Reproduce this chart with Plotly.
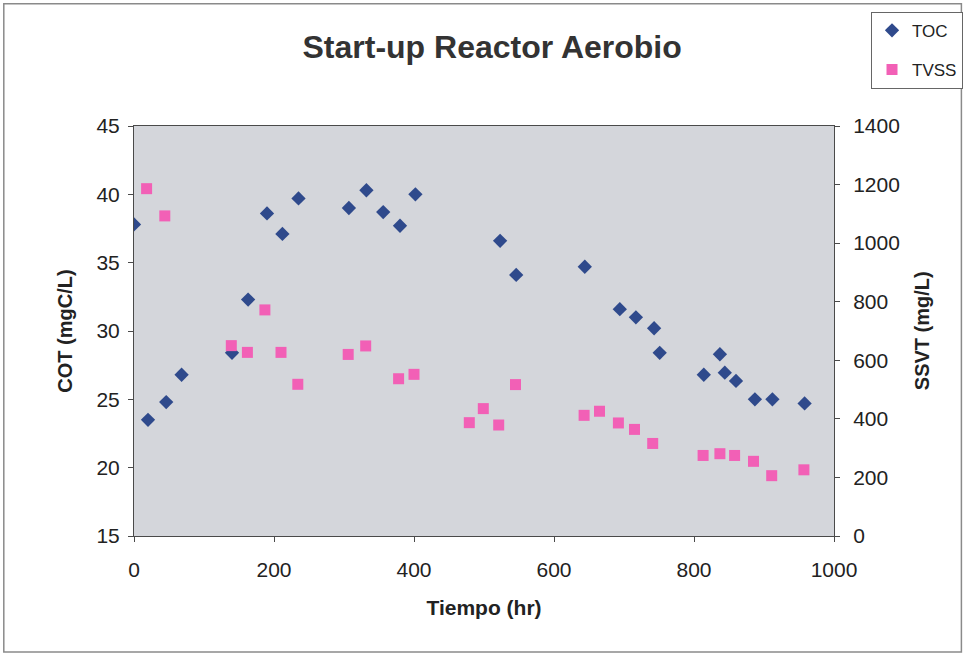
import plotly.graph_objects as go

# Total organic carbon (left axis, mgC/L)
toc_time = [0, 20, 46, 68, 140, 163, 190, 212, 235, 307, 332, 356, 380, 402,
            523, 546, 644, 694, 717, 743, 751, 814, 837, 844, 860, 887, 912, 958]
toc_value = [37.8, 23.5, 24.8, 26.8, 28.4, 32.3, 38.6, 37.1, 39.7, 39.0, 40.3, 38.7, 37.7, 40.0,
             36.6, 34.1, 34.7, 31.6, 31.0, 30.2, 28.4, 26.8, 28.3, 26.95, 26.35, 25.0, 25.0, 24.7]

# Volatile suspended solids (right axis, mg/L)
tvss_time = [18, 44, 139, 162, 187, 210, 234, 306, 331, 378, 400,
             479, 499, 521, 545, 643, 665, 692, 715, 741, 813, 837, 858, 885, 911, 957]
tvss_value = [1186, 1093, 650, 627, 772, 627, 518, 620, 649, 537, 552,
              387, 435, 379, 517, 412, 426, 386, 364, 316, 275, 281, 275, 255, 206, 226]

x_ticks = [0, 200, 400, 600, 800, 1000]
left_ticks = [15, 20, 25, 30, 35, 40, 45]
right_ticks = [0, 200, 400, 600, 800, 1000, 1200, 1400]

FONT = "Liberation Sans, Arial, sans-serif"
AXIS_COLOR = "#4a4a4a"
TEXT_COLOR = "#222222"

fig = go.Figure()
fig.add_trace(go.Scatter(
    x=toc_time, y=toc_value, name="TOC", mode="markers",
    marker=dict(symbol="diamond", size=11, color="#2f4a8c"),
    legendgroup="a", yaxis="y",
))
fig.add_trace(go.Scatter(
    x=tvss_time, y=tvss_value, name="TVSS", mode="markers",
    marker=dict(symbol="square", size=11, color="#f260b6"),
    legendgroup="b", yaxis="y2",
))

axis_common = dict(
    showgrid=False, zeroline=False, showline=True, linecolor=AXIS_COLOR, linewidth=1,
    ticks="outside", ticklen=5, tickcolor=AXIS_COLOR, automargin=False,
    tickfont=dict(family=FONT, size=21, color=TEXT_COLOR),
)
title_font = dict(family=FONT, size=20, color=TEXT_COLOR)

fig.update_layout(
    width=965, height=655,
    margin=dict(l=134, r=131, t=126, b=119),
    paper_bgcolor="white",
    plot_bgcolor="#d4d6db",
    title=dict(text="<b>Start-up Reactor Aerobio</b>", x=0.51, xanchor="center",
               y=0.928, yanchor="middle",
               font=dict(family=FONT, size=32, color="#333333")),
    xaxis=dict(range=[0, 1000], tickvals=x_ticks, mirror=True, ticklabelstandoff=10,
               title=dict(text="<b>Tiempo (hr)</b>", standoff=20,
                          font=dict(family=FONT, size=21, color=TEXT_COLOR)),
               **axis_common),
    yaxis=dict(range=[15, 45], tickvals=left_ticks, ticklabelstandoff=4,
               title=dict(text="<b>COT (mgC/L)</b>", standoff=18, font=title_font),
               **axis_common),
    yaxis2=dict(range=[0, 1400], tickvals=right_ticks, overlaying="y", side="right",
                ticklabelstandoff=9, **axis_common),
    legend=dict(xref="container", yref="container", x=0.9026, xanchor="left",
                y=0.982, yanchor="top",
                bordercolor="#666666", borderwidth=1, bgcolor="white",
                font=dict(family=FONT, size=17, color=TEXT_COLOR),
                traceorder="grouped", tracegroupgap=14, itemwidth=30),
    showlegend=True,
)

# right-axis title
fig.add_annotation(text="<b>SSVT (mg/L)</b>", xref="paper", yref="paper",
                   x=1.126, y=0.5, xanchor="center", yanchor="middle",
                   textangle=-90, showarrow=False, font=title_font)

# outer chart frame
fig.add_shape(type="rect", xref="paper", yref="paper",
              x0=-0.186, x1=1.182, y0=-0.283, y1=1.298,
              line=dict(color="#8a8a8a", width=1.5), fillcolor="rgba(0,0,0,0)", layer="below")

fig.write_html("out.html")
